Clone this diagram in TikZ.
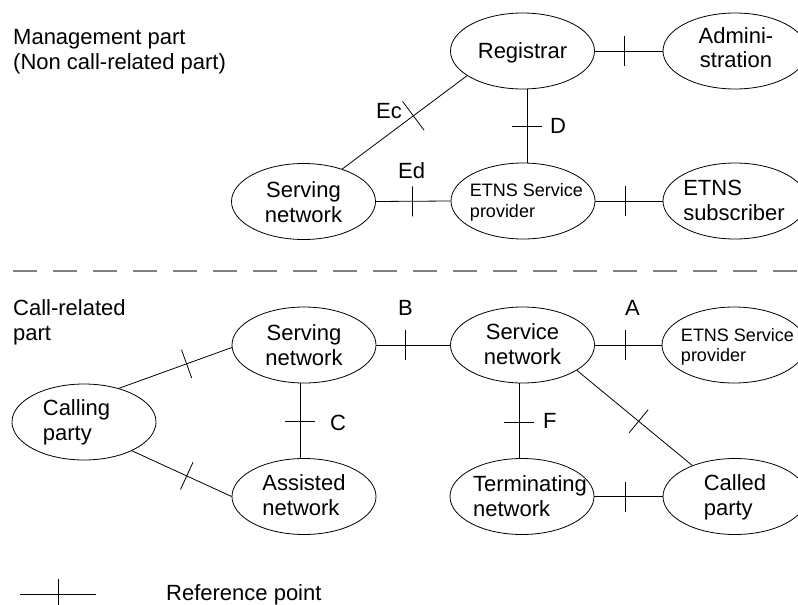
\documentclass[tikz,border=0pt]{standalone}
\usepackage{fontspec}
\setmainfont{Liberation Sans}
\usetikzlibrary{shapes.geometric}
% text placed inside an ellipse: dx shift, first-baseline height above centre, alignment, lines
\newcommand\ET[4]{\makebox[0pt]{\kern#1\raisebox{#2}[0pt][0pt]{\begin{tabular}[t]{@{}#3@{}}#4\end{tabular}}\kern-#1}}
\newcommand\tk{\rule[-15pt]{0.8pt}{30pt}}
\newcommand\tkl{\rule[-18pt]{0.8pt}{36pt}}
\begin{document}
\begin{tikzpicture}[x=1pt,y=-1pt,
  every node/.style={font=\fontsize{22}{25}\selectfont},
  ell/.style={draw, ellipse, minimum width=144pt, minimum height=76pt, inner sep=0pt, line width=0.8pt},
  smallfont/.style={font=\fontsize{18}{20.5}\selectfont},
  tick/.style={sloped, inner sep=0pt, outer sep=0pt},
  conn/.style={line width=0.8pt},
  lbl/.style={anchor=base west, inner sep=0pt},
  sepline/.style={line width=1.2pt, color=black!50, dash pattern=on 24pt off 16pt}]
\clip (0,0) rectangle (798,605);
% management part
\node[ell] (reg) at (522.5,51) {\ET{0pt}{-7pt}{c}{Registrar}};
\node[ell] (adm) at (735,51) {\ET{1pt}{8pt}{c}{Admini-\\stration}};
\node[ell] (sn1) at (303.5,201.5) {\ET{0pt}{4.5pt}{c}{Serving\\network}};
\node[ell,smallfont] (esp1) at (523,201) {\ET{3.5pt}{4.3pt}{l}{ETNS Service\\provider}};
\node[ell] (sub) at (735,201) {\ET{-1pt}{6pt}{l}{ETNS\\subscriber}};
% call-related part
\node[ell] (sn2) at (304,345) {\ET{0pt}{5pt}{c}{Serving\\network}};
\node[ell] (svc) at (522.5,345) {\ET{0pt}{5.5pt}{c}{Service\\network}};
\node[ell,smallfont] (esp2) at (734,345) {\ET{3.5pt}{4pt}{l}{ETNS Service\\provider}};
\node[ell] (cal) at (84,422) {\ET{-7.5pt}{7pt}{l}{Calling\\party}};
\node[ell] (ast) at (304,496.5) {\ET{0pt}{6.5pt}{l}{Assisted\\network}};
\node[ell] (ter) at (522,496.5) {\ET{8pt}{5.5pt}{l}{Terminating\\network}};
\node[ell] (cld) at (735,496.5) {\ET{0pt}{6pt}{l}{Called\\party}};
% connectors
\draw[conn] (reg.east) -- node[tick,pos=.435]{\tk} (adm.west);
\draw[conn] (sn1.40) -- node[tick,pos=.57]{\tkl} (reg.204);
\draw[conn] ([xshift=4.5pt]reg.south) -- node[tick,pos=.5]{\tk} ([xshift=4pt]esp1.north);
\draw[conn] (sn1.east) -- node[tick,pos=.49]{\tk} (esp1.west);
\draw[conn] (esp1.east) -- node[tick,pos=.45]{\tk} (sub.west);
\draw[conn] (cal.44) -- node[tick,pos=.6]{\tk} (sn2.182);
\draw[conn] (cal.329) -- node[tick,pos=.55]{\tk} (ast.west);
\draw[conn] ([xshift=-4pt]sn2.south) -- node[tick,pos=.51]{\tk} ([xshift=-4pt]ast.north);
\draw[conn] (sn2.east) -- node[tick,pos=.39]{\tk} (svc.west);
\draw[conn] (svc.east) -- node[tick,pos=.45]{\tk} (esp2.west);
\draw[conn] ([xshift=-3.5pt]svc.south) -- node[tick,pos=.52]{\tk} ([xshift=-3pt]ter.north);
\draw[conn] (svc.335) -- node[tick,pos=.535]{\tk} (cld.144);
\draw[conn] (ter.east) -- node[tick,pos=.456]{\tk} (cld.west);
% separator
\coordinate (s1) at (13,271);
\coordinate (s2) at (800,271);
\draw[sepline] (s1) -- (s2);
% labels
\node[lbl] (ec) at (376,118) {Ec};
\node[lbl] (ed) at (398,178) {Ed};
\node[lbl] (dl) at (550,133) {D};
\node[lbl] (bl) at (398,315) {B};
\node[lbl] (al) at (625,315) {A};
\node[lbl] (cl) at (330,430) {C};
\node[lbl] (fl) at (543,428) {F};
\node[lbl] (t1) at (13,44) {\begin{tabular}[t]{@{}l@{}}Management part\\(Non call-related part)\end{tabular}};
\node[lbl] (t2) at (13,315) {\begin{tabular}[t]{@{}l@{}}Call-related\\part\end{tabular}};
% legend
\coordinate (l1) at (20,594);
\coordinate (l2) at (96,594);
\draw[conn] (l1) -- node[tick,pos=.5]{\tk} (l2);
\node[lbl] (rp) at (166,600) {Reference point};
\end{tikzpicture}
\end{document}
